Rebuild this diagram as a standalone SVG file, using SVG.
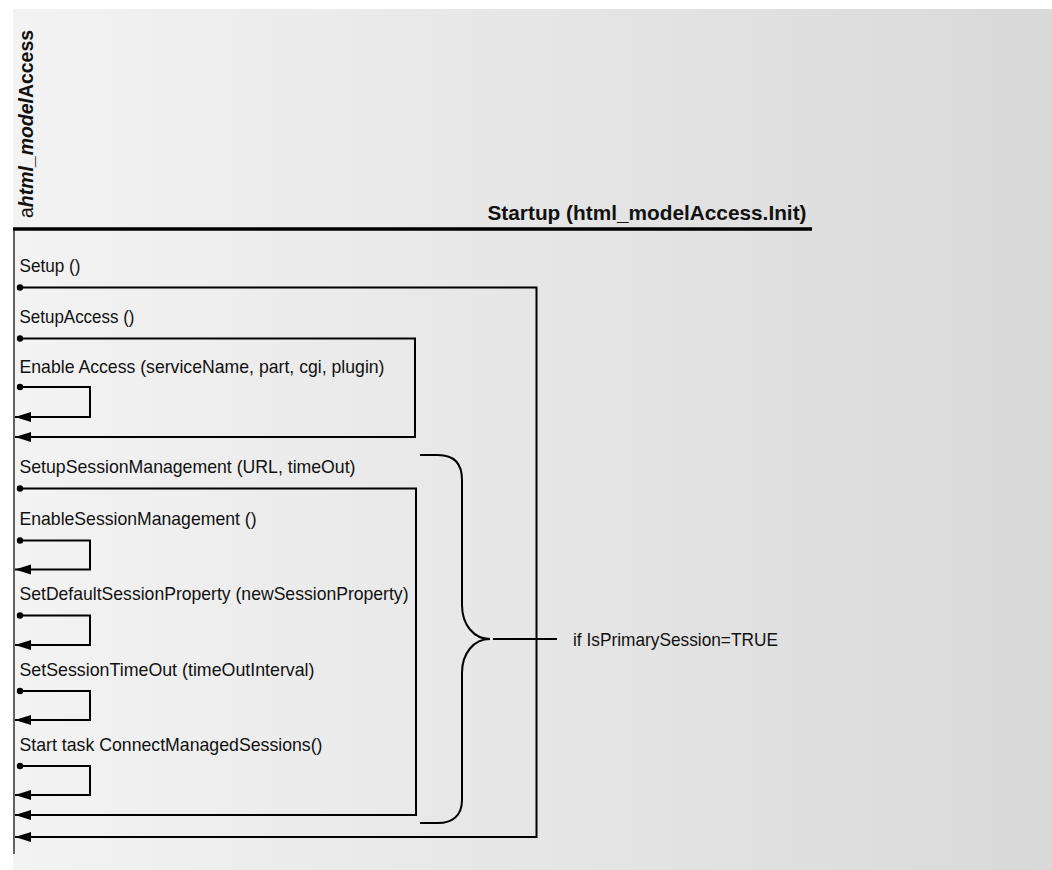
<svg xmlns="http://www.w3.org/2000/svg" width="1052" height="870" viewBox="0 0 1052 870">
  <defs>
    <linearGradient id="bg" x1="13" y1="0" x2="1052" y2="0" gradientUnits="userSpaceOnUse">
      <stop offset="0" stop-color="#f3f3f3"/>
      <stop offset="1" stop-color="#d9d9d9"/>
    </linearGradient>
    <!-- filled return arrowhead -->
    <marker id="ret" markerUnits="userSpaceOnUse" markerWidth="17" markerHeight="11" viewBox="0 -5.5 17 11" refX="16" refY="0" orient="auto" overflow="visible">
      <path d="M0,-5 L16,0 L0,5 Z" fill="#000"/>
    </marker>
    <!-- call origin dot -->
    <marker id="dot" markerUnits="userSpaceOnUse" markerWidth="8" markerHeight="8" viewBox="-4 -4 8 8" refX="0" refY="0" orient="auto" overflow="visible">
      <circle cx="0" cy="0" r="3.2" fill="#000"/>
    </marker>
  </defs>
  <style>
    .lbl { font-family: "Liberation Sans", Arial, sans-serif; font-size: 19px; fill: #111; }
    .hdr { font-family: "Liberation Sans", Arial, sans-serif; font-size: 21px; font-weight: bold; fill: #111; }
    .obj { font-family: "Liberation Sans", Arial, sans-serif; font-size: 21px; fill: #111; }
    .msg { fill: none; stroke: #000; stroke-width: 2; marker-start: url(#dot); marker-end: url(#ret); }
    .brace { fill: none; stroke: #000; stroke-width: 2; }
  </style>

  <rect x="0" y="0" width="1052" height="870" fill="#fff"/>
  <rect x="13" y="9" width="1039" height="861" fill="url(#bg)"/>

  <!-- lifeline of the object -->
  <g id="lifeline">
    <text class="obj" transform="translate(33,218) rotate(-90)" textLength="188" lengthAdjust="spacingAndGlyphs">a<tspan font-weight="bold" font-style="italic">html_model</tspan><tspan font-weight="bold">Access</tspan></text>
    <line x1="14" y1="229" x2="14" y2="854" stroke="#333" stroke-width="1.5"/>
    <line x1="13" y1="229" x2="812" y2="229" stroke="#000" stroke-width="3.5"/>
    <text class="hdr" x="487.5" y="219.5" textLength="319" lengthAdjust="spacingAndGlyphs">Startup (html_modelAccess.Init)</text>
  </g>

  <!-- message labels -->
  <g id="msg-setup"><text class="lbl" x="19.5" y="272" textLength="61" lengthAdjust="spacingAndGlyphs">Setup ()</text></g>
  <g id="msg-setupaccess"><text class="lbl" x="19.5" y="323" textLength="115" lengthAdjust="spacingAndGlyphs">SetupAccess ()</text></g>
  <g id="msg-enableaccess"><text class="lbl" x="19.5" y="372.5" textLength="365" lengthAdjust="spacingAndGlyphs">Enable Access (serviceName, part, cgi, plugin)</text></g>
  <g id="msg-setupsession"><text class="lbl" x="19.5" y="473" textLength="336" lengthAdjust="spacingAndGlyphs">SetupSessionManagement (URL, timeOut)</text></g>
  <g id="msg-enablesession"><text class="lbl" x="19.5" y="525" textLength="237" lengthAdjust="spacingAndGlyphs">EnableSessionManagement ()</text></g>
  <g id="msg-setdefault"><text class="lbl" x="19.5" y="600" textLength="389" lengthAdjust="spacingAndGlyphs">SetDefaultSessionProperty (newSessionProperty)</text></g>
  <g id="msg-settimeout"><text class="lbl" x="19.5" y="676" textLength="295" lengthAdjust="spacingAndGlyphs">SetSessionTimeOut (timeOutInterval)</text></g>
  <g id="msg-starttask"><text class="lbl" x="19.5" y="751" textLength="303" lengthAdjust="spacingAndGlyphs">Start task ConnectManagedSessions()</text></g>

  <!-- condition note -->
  <g id="condition">
    <path class="brace" d="M420,455 H438 C452,455 462,462 462,480 V605 C462,625 474,639 490,639 C474,639 462,653 462,673 V800 C462,816 452,823 438,823 H420"/>
    <line x1="493" y1="639" x2="557" y2="639" stroke="#000" stroke-width="2"/>
    <text class="lbl" x="573" y="646" textLength="205" lengthAdjust="spacingAndGlyphs">if IsPrimarySession=TRUE</text>
  </g>

  <!-- call / return connectors -->
  <g id="connectors">
    <path class="msg" d="M20,287.5 H536.5 V837 H15"/>
    <path class="msg" d="M20,338.5 H415 V437 H15"/>
    <path class="msg" d="M20,387 H90 V417 H15"/>
    <path class="msg" d="M20,488.5 H416 V815 H15"/>
    <path class="msg" d="M20,540.5 H90 V569.5 H15"/>
    <path class="msg" d="M20,615.5 H90 V645 H15"/>
    <path class="msg" d="M20,691 H90 V720 H15"/>
    <path class="msg" d="M20,766 H90 V795 H15"/>
  </g>
</svg>
